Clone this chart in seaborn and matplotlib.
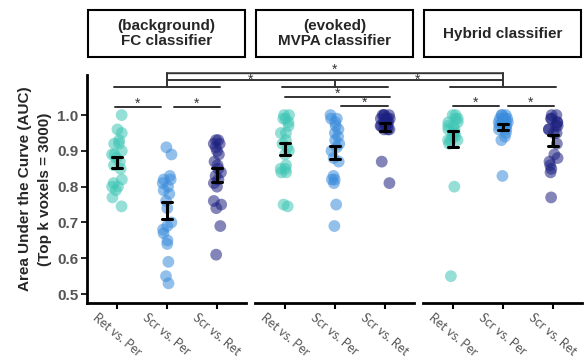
import numpy as np
import pandas as pd
import matplotlib
matplotlib.use("Agg")
import matplotlib.pyplot as plt
import seaborn as sns
from matplotlib.patches import Rectangle, ConnectionPatch

# --- data (AUC per subject) ---
panels = ["(background)\nFC classifier", "(evoked)\nMVPA classifier", "Hybrid classifier"]
comparisons = ["Ret vs. Per", "Scr vs. Per", "Scr vs. Ret"]

fc_ret_per = [1.00, 0.96, 0.95, 0.93, 0.92, 0.92, 0.90, 0.89, 0.89, 0.88,
              0.87, 0.86, 0.85, 0.82, 0.81, 0.80, 0.80, 0.79, 0.77, 0.745]
fc_scr_per = [0.91, 0.89, 0.83, 0.82, 0.82, 0.81, 0.80, 0.79, 0.78, 0.76,
              0.74, 0.70, 0.69, 0.68, 0.67, 0.65, 0.64, 0.59, 0.55, 0.53]
fc_scr_ret = [0.93, 0.93, 0.92, 0.92, 0.91, 0.90, 0.89, 0.87, 0.86, 0.85,
              0.84, 0.83, 0.82, 0.81, 0.80, 0.76, 0.75, 0.74, 0.69, 0.61]

mvpa_ret_per = [1.00, 1.00, 0.99, 0.99, 0.98, 0.97, 0.95, 0.95, 0.93, 0.92,
                0.91, 0.90, 0.89, 0.86, 0.85, 0.85, 0.84, 0.84, 0.75, 0.745]
mvpa_scr_per = [1.00, 0.99, 0.99, 0.98, 0.97, 0.96, 0.95, 0.94, 0.93, 0.92,
                0.91, 0.90, 0.88, 0.87, 0.83, 0.82, 0.82, 0.81, 0.75, 0.69]
mvpa_scr_ret = [1.00, 1.00, 1.00, 1.00, 0.99, 0.99, 0.99, 0.99, 0.98, 0.98,
                0.98, 0.97, 0.97, 0.97, 0.97, 0.96, 0.96, 0.96, 0.87, 0.81]

hyb_ret_per = [1.00, 1.00, 0.99, 0.99, 0.98, 0.98, 0.97, 0.97, 0.96, 0.96,
               0.95, 0.95, 0.94, 0.93, 0.93, 0.94, 0.93, 0.92, 0.80, 0.55]
hyb_scr_per = [1.00, 1.00, 1.00, 0.99, 0.99, 0.99, 0.99, 0.98, 0.98, 0.98,
               0.98, 0.97, 0.97, 0.97, 0.96, 0.96, 0.95, 0.94, 0.93, 0.83]
hyb_scr_ret = [1.00, 1.00, 0.99, 0.99, 0.98, 0.98, 0.97, 0.97, 0.96, 0.96,
               0.95, 0.95, 0.92, 0.89, 0.88, 0.87, 0.86, 0.85, 0.84, 0.77]

panel_data = [
    [fc_ret_per, fc_scr_per, fc_scr_ret],
    [mvpa_ret_per, mvpa_scr_per, mvpa_scr_ret],
    [hyb_ret_per, hyb_scr_per, hyb_scr_ret],
]

colors = ["#3fc6b5", "#3b8cdc", "#1d2181"]

sns.set_style("white")
plt.rcParams['font.family'] = ['Liberation Sans', 'DejaVu Sans']

fig = plt.figure(figsize=(5.87, 3.63), dpi=100)
np.random.seed(4)

lefts = [87 / 587, 255 / 587, 423 / 587]
width = 159 / 587
bottom = 1 - 303 / 363
height = 228 / 363

axes = []
for i, (title, groups) in enumerate(zip(panels, panel_data)):
    ax = fig.add_axes([lefts[i], bottom, width, height])
    rows = []
    for comp, vals in zip(comparisons, groups):
        for v in vals:
            rows.append({"Comparison": comp, "AUC": v})
    df = pd.DataFrame(rows)

    sns.stripplot(data=df, x="Comparison", y="AUC", hue="Comparison", order=comparisons,
                  palette=colors, jitter=0.1, size=8.5, alpha=0.55, linewidth=0,
                  legend=False, zorder=1, ax=ax)
    sns.pointplot(data=df, x="Comparison", y="AUC", order=comparisons, errorbar="se",
                  color="black", capsize=0.2, linestyle="none", marker="",
                  err_kws={"linewidth": 2.2, "zorder": 5}, ax=ax)
    for ln in ax.lines:
        ln.set_zorder(5)

    ax.set_xlim(-0.6, 2.58)
    ax.set_ylim(0.475, 1.112)
    ax.set_xlabel("")
    ax.set_xticks(range(3))
    ax.set_xticklabels(comparisons, rotation=-40, ha="center", fontsize=9,
                       family=["Lato", "DejaVu Sans"], color="#555555")
    ax.tick_params(axis="x", length=4, width=1.5, color="black", pad=2, bottom=True)
    for s in ["top", "right"]:
        ax.spines[s].set_visible(False)
    ax.spines["bottom"].set_linewidth(2)
    ax.spines["bottom"].set_color("black")
    if i == 0:
        ax.spines["left"].set_linewidth(2)
        ax.spines["left"].set_color("black")
        ax.set_yticks([0.5, 0.6, 0.7, 0.8, 0.9, 1.0])
        ax.set_yticklabels(["0.5", "0.6", "0.7", "0.8", "0.9", "1.0"], fontsize=11,
                           fontweight="bold", color="#555555")
        ax.tick_params(axis="y", length=4, width=1.2, color="black", pad=2, left=True)
        ax.set_ylabel("Area Under the Curve (AUC)\n(Top k voxels = 3000)", fontsize=11,
                      fontweight="bold", labelpad=4, linespacing=1.5)
    else:
        ax.spines["left"].set_visible(False)
        ax.set_yticks([])
        ax.set_ylabel("")

    # header box
    ax.add_patch(Rectangle((0.005, 1.079), 0.99, 0.206, transform=ax.transAxes,
                           fill=False, edgecolor="black", linewidth=1.5, clip_on=False))
    ax.text(0.5, 1.182, title, transform=ax.transAxes, ha="center", va="center",
            fontsize=11, fontweight="bold", linespacing=1.15)
    axes.append(ax)

line_kw = dict(color="#333333", linewidth=1.4, clip_on=False)
star_kw = dict(ha="center", va="center", fontsize=10, color="#333333", clip_on=False)

# within-panel comparisons
sig_pairs = {
    0: [(-0.04, 0.88, 1.022), (1.14, 2.06, 1.022)],
    1: [(0.0, 2.1, 1.050), (1.12, 2.06, 1.025)],
    2: [(0.0, 0.92, 1.025), (1.1, 2.02, 1.025)],
}
for i, ax in enumerate(axes):
    for x0, x1, y in sig_pairs[i]:
        ax.plot([x0, x1], [y, y], **line_kw)
        ax.text((x0 + x1) / 2, y + 0.010, "*", **star_kw)
    # baseline of panel group
    ax.plot([-0.06, 2.06], [1.078, 1.078], **line_kw)
    top = 1.098 if i == 1 else 1.117
    ax.plot([1, 1], [1.078, top], **line_kw)

# between-classifier comparisons
for y in [1.117, 1.098]:
    con = ConnectionPatch(xyA=(1, y), coordsA=axes[0].transData,
                          xyB=(1, y), coordsB=axes[2].transData,
                          color="#333333", linewidth=1.4)
    fig.add_artist(con)
axes[1].text(1, 1.127, "*", **star_kw)
axes[1].text(-0.68, 1.099, "*", **star_kw)
axes[1].text(2.66, 1.099, "*", **star_kw)

fig.savefig("out.png", dpi=100)
